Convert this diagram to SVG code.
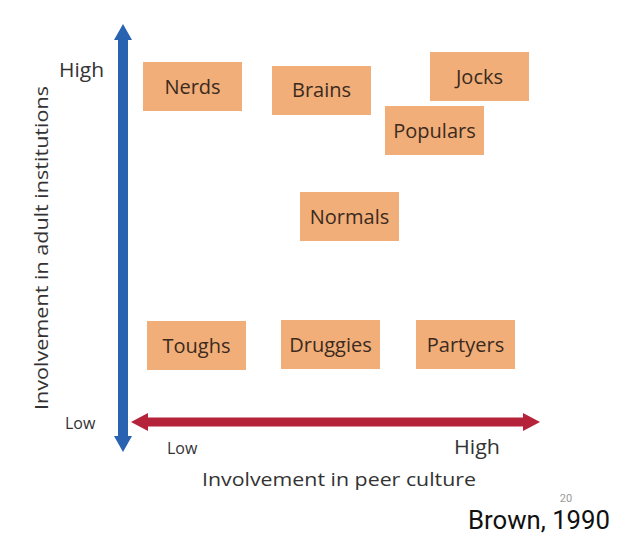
<svg xmlns="http://www.w3.org/2000/svg" width="622" height="544" viewBox="0 0 622 544">
<style>
.box{fill:#F1AE78;}
.bt{font-family:"Open Sans","Lato",sans-serif;font-size:20px;fill:#3b2a1f;text-anchor:middle;}
.lbl{font-family:"Open Sans","Lato",sans-serif;fill:#333;}
</style>
<rect width="622" height="544" fill="#fff"/>
<g id="connectors">
<polygon id="y-axis" fill="#2962B0" points="123,24 132,40 128,40 128,436 132,436 123,452 114,436 118,436 118,40 114,40"/>
<polygon id="x-axis" fill="#B5233A" points="131,422 148,413 148,417.5 523,417.5 523,413 540,422 523,431 523,426.5 148,426.5 148,431"/>
</g>
<g id="nerds"><rect class="box" x="143" y="62" width="99" height="49"/><text class="bt" x="192.5" y="94">Nerds</text></g>
<g id="brains"><rect class="box" x="272" y="66" width="99" height="49"/><text class="bt" x="321.5" y="97">Brains</text></g>
<g id="jocks"><rect class="box" x="430" y="52" width="99" height="49"/><text class="bt" x="479.5" y="84">Jocks</text></g>
<g id="populars"><rect class="box" x="385" y="106" width="99" height="49"/><text class="bt" x="434.5" y="138">Populars</text></g>
<g id="normals"><rect class="box" x="300" y="192" width="99" height="49"/><text class="bt" x="349.5" y="224">Normals</text></g>
<g id="toughs"><rect class="box" x="147" y="321" width="99" height="49"/><text class="bt" x="196.5" y="353">Toughs</text></g>
<g id="druggies"><rect class="box" x="281" y="320" width="99" height="49"/><text class="bt" x="330.5" y="352">Druggies</text></g>
<g id="partyers"><rect class="box" x="416" y="320" width="99" height="49"/><text class="bt" x="465.5" y="352">Partyers</text></g>
<g id="labels">
<text class="lbl" x="59" y="77" font-size="20" textLength="45" lengthAdjust="spacingAndGlyphs">High</text>
<text class="lbl" x="65" y="429" font-size="16">Low</text>
<text class="lbl" x="167" y="454" font-size="16">Low</text>
<text class="lbl" x="454" y="454" font-size="20" textLength="46" lengthAdjust="spacingAndGlyphs">High</text>
<text class="lbl" x="339" y="486" font-size="19" text-anchor="middle" textLength="274" lengthAdjust="spacingAndGlyphs">Involvement in peer culture</text>
<text class="lbl" x="0" y="0" font-size="19" text-anchor="middle" transform="translate(48,248) rotate(-90)" textLength="324" lengthAdjust="spacingAndGlyphs">Involvement in adult institutions</text>
<text x="566" y="502" font-family="Roboto,sans-serif" font-size="11" fill="#999" text-anchor="middle">20</text>
<text x="468" y="529" font-family="Roboto,sans-serif" font-size="25" fill="#111" textLength="142" lengthAdjust="spacingAndGlyphs">Brown, 1990</text>
</g>
</svg>
